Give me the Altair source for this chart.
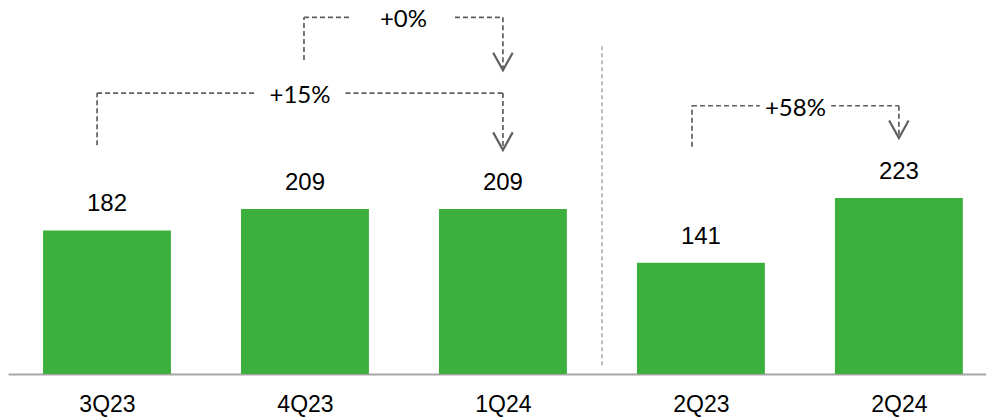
import altair as alt
import pandas as pd

# ---- data ----
categories = ["3Q23", "4Q23", "1Q24", "2Q23", "2Q24"]
values = [182, 209, 209, 141, 223]

# growth brackets (indices refer to categories)
growth_labels = ["+0%", "+15%", "+58%"]
from_idx = [1, 0, 3]
to_idx = [2, 2, 4]
bracket_level = [452, 356, 340]   # height of horizontal connector (value units)
start_level = [398, 290, 288]     # bottom of left leg
end_level = [385, 284, 299]       # arrow tip

# ---- style ----
GREEN = "#3DAF3C"
GRAY = "#5F5F5F"
HALF_BAR = 0.323
gap_half = [0.26, 0.23, 0.18]
left_shift = [-0.005, -0.05, -0.045]
Y_MAX = 474

bars = pd.DataFrame({"cat": categories, "idx": list(range(len(categories))), "value": values})
bars["x0"] = bars["idx"] - HALF_BAR
bars["x1"] = bars["idx"] + HALF_BAR
bars["zero"] = 0

segs = []
texts = []
arrows = []
for lab, a, b, lv, s, e, g, sh in zip(growth_labels, from_idx, to_idx, bracket_level,
                                       start_level, end_level, gap_half, left_shift):
    xa = a + sh
    mid = (xa + b) / 2
    segs.append({"x": xa, "x2": xa, "y": s, "y2": lv})
    segs.append({"x": xa, "x2": mid - g, "y": lv, "y2": lv})
    segs.append({"x": mid + g, "x2": b, "y": lv, "y2": lv})
    segs.append({"x": b, "x2": b, "y": lv, "y2": e})
    texts.append({"x": mid, "y": lv, "label": lab})
    arrows.append({"x": b, "y": e})
segs = pd.DataFrame(segs)
texts = pd.DataFrame(texts)
arrows = pd.DataFrame(arrows)

sep = pd.DataFrame({"x": [(2 + 3) / 2], "y": [11], "y2": [417]})

xscale = alt.Scale(domain=[-0.5, 4.44], nice=False, zero=False)
yscale = alt.Scale(domain=[0, Y_MAX], nice=False)

label_expr = "[" + ",".join(f"'{c}'" for c in categories) + "][datum.value]"
xaxis = alt.Axis(values=list(range(len(categories))), labelExpr=label_expr,
                 ticks=False, grid=False, domainColor="#A6A6A6", domainWidth=2,
                 labelFont="Liberation Sans", labelFontSize=23,
                 labelColor="#000000", labelPadding=19, title=None)

bar_layer = alt.Chart(bars).mark_bar(color=GREEN).encode(
    x=alt.X("x0:Q", scale=xscale, title=None, axis=xaxis),
    x2="x1:Q",
    y=alt.Y("value:Q", scale=yscale, axis=None),
    y2="zero:Q",
)

value_text = alt.Chart(bars).mark_text(
    font="Liberation Sans", fontSize=24, color="#000000", baseline="alphabetic", dy=-19
).encode(x=alt.X("idx:Q", title=None, axis=xaxis), y=alt.Y("value:Q", axis=None), text="value:Q")

sep_layer = alt.Chart(sep).mark_rule(color="#A6A6A6", strokeDash=[4, 3], strokeWidth=1.5).encode(
    x=alt.X("x:Q", title=None, axis=xaxis), y=alt.Y("y:Q", axis=None), y2="y2:Q"
)

seg_layer = alt.Chart(segs).mark_rule(color=GRAY, strokeDash=[5, 3], strokeWidth=1.7).encode(
    x=alt.X("x:Q", title=None, axis=xaxis), x2="x2:Q", y=alt.Y("y:Q", axis=None), y2="y2:Q"
)

arrow_layer = alt.Chart(arrows).mark_point(
    shape="M-1,-1.8L0,0L1,-1.8", size=380, filled=False, color=GRAY, strokeWidth=2.2, opacity=1
).encode(x=alt.X("x:Q", title=None, axis=xaxis), y=alt.Y("y:Q", axis=None))

pct_text = alt.Chart(texts).mark_text(
    font="Lato", fontSize=24, color="#000000", baseline="middle", dy=3
).encode(x=alt.X("x:Q", title=None, axis=xaxis), y=alt.Y("y:Q", axis=None), text="label:N")

chart = alt.layer(bar_layer, value_text, sep_layer, seg_layer, arrow_layer, pct_text).properties(
    width=978, height=374,
    background="white",
    autosize=alt.AutoSizeParams(type="none"),
    padding={"left": 8, "top": 0, "right": 0, "bottom": 43},
).configure_view(stroke=None)

chart.save("out.html", embed_options={"renderer": "svg", "actions": False})
